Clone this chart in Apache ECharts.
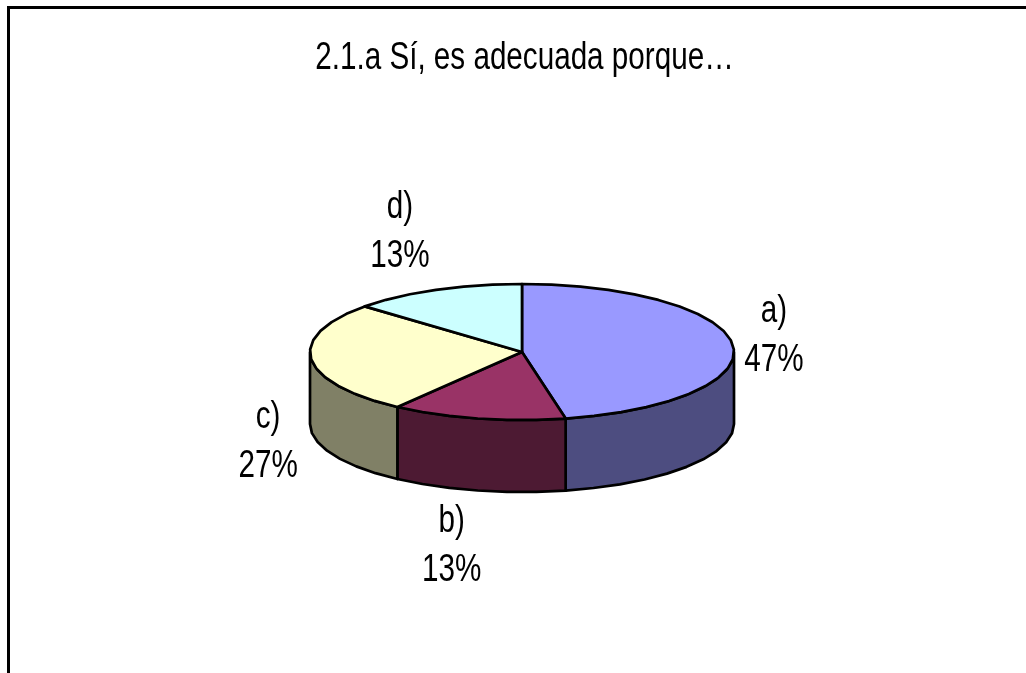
<!DOCTYPE html>
<html>
<head>
<meta charset="utf-8">
<style>
  html, body { margin: 0; padding: 0; background: #fff; }
  #chart { width: 1026px; height: 673px; }
</style>
<script src="https://cdn.jsdelivr.net/npm/echarts@6/dist/echarts.min.js"></script>
</head>
<body>
<div id="chart"></div>
<script>
const titleText = '2.1.a Sí, es adecuada porque…';
const categories = ['a)', 'b)', 'c)', 'd)'];
const values = [46.7, 13.3, 26.7, 13.3];

const topColors = ['#9999ff', '#993366', '#ffffcc', '#ccffff'];
const sideColors = ['#4d4d80', '#4d1a33', '#808066', '#668080'];
const fontName = '"Liberation Sans", sans-serif';
const textSize = 38;
const textSquash = 0.78; // the original font is a narrow one

// ellipse of the tilted pie, in page pixels
const cx = 522, cy = 352, rx = 212, ry = 68, depth = 72;
// label centre relative to the slice's mid angle on the ellipse
const labelNudge = [[41, -9], [-26, 128], [-43, 83], [-36, -58]];

const total = values.reduce((a, b) => a + b, 0);
let running = 0;
const sliceData = values.map((v) => {
  const start = running;
  running += v;
  return [start, running, v];
});

function toAngle(v) {
  return (v / total) * 2 * Math.PI;
}

function rimPoint(t, dy) {
  return [cx + rx * Math.sin(t), cy - ry * Math.cos(t) + dy];
}

// rim is a coarse polygon in the original, not a smooth curve
function arc(a1, a2, dy) {
  const pts = [];
  const n = Math.max(2, Math.ceil((a2 - a1) / 0.14));
  for (let i = 0; i <= n; i++) {
    pts.push(rimPoint(a1 + ((a2 - a1) * i) / n, dy));
  }
  return pts;
}

// wall of the slice: only the front half of the rim shows
function renderSide(params, api) {
  const a1 = Math.max(toAngle(api.value(0)), Math.PI / 2);
  const a2 = Math.min(toAngle(api.value(1)), (Math.PI * 3) / 2);
  if (a2 <= a1) return { type: 'group', children: [] };
  const points = arc(a1, a2, 0).concat(arc(a1, a2, depth).reverse());
  return {
    type: 'polygon',
    shape: { points: points },
    style: { fill: sideColors[params.dataIndex], stroke: '#000', lineWidth: 2.7, lineJoin: 'round' }
  };
}

function renderTop(params, api) {
  const a1 = toAngle(api.value(0));
  const a2 = toAngle(api.value(1));
  const mid = (a1 + a2) / 2;
  const nudge = labelNudge[params.dataIndex];
  const anchor = rimPoint(mid, 0);
  return {
    type: 'group',
    children: [
      {
        type: 'polygon',
        shape: { points: [[cx, cy]].concat(arc(a1, a2, 0)) },
        style: { fill: topColors[params.dataIndex], stroke: '#000', lineWidth: 2.7, lineJoin: 'round' }
      },
      {
        type: 'text',
        x: anchor[0] + nudge[0],
        y: anchor[1] + nudge[1],
        scaleX: textSquash,
        style: {
          text: categories[params.dataIndex] + '\n' + Math.round(api.value(2)) + '%',
          fill: '#000',
          font: textSize + 'px ' + fontName,
          lineHeight: 49,
          align: 'center',
          verticalAlign: 'middle'
        }
      }
    ]
  };
}

const chart = echarts.init(document.getElementById('chart'));
chart.setOption({
  animation: false,
  backgroundColor: '#fff',
  graphic: [
    { type: 'line', shape: { x1: 8.5, y1: 8, x2: 8.5, y2: 673 }, style: { stroke: '#000', lineWidth: 3 } },
    { type: 'line', shape: { x1: 7, y1: 7.5, x2: 1026, y2: 7.5 }, style: { stroke: '#000', lineWidth: 3 } },
    {
      type: 'text',
      x: 524.5,
      y: 59,
      scaleX: textSquash,
      style: {
        text: titleText,
        fill: '#000',
        font: textSize + 'px ' + fontName,
        align: 'center',
        verticalAlign: 'middle'
      }
    }
  ],
  series: [
    { type: 'custom', coordinateSystem: 'none', silent: true, z: 1, data: sliceData, renderItem: renderSide },
    { type: 'custom', coordinateSystem: 'none', silent: true, z: 2, data: sliceData, renderItem: renderTop }
  ]
});
</script>
</body>
</html>
